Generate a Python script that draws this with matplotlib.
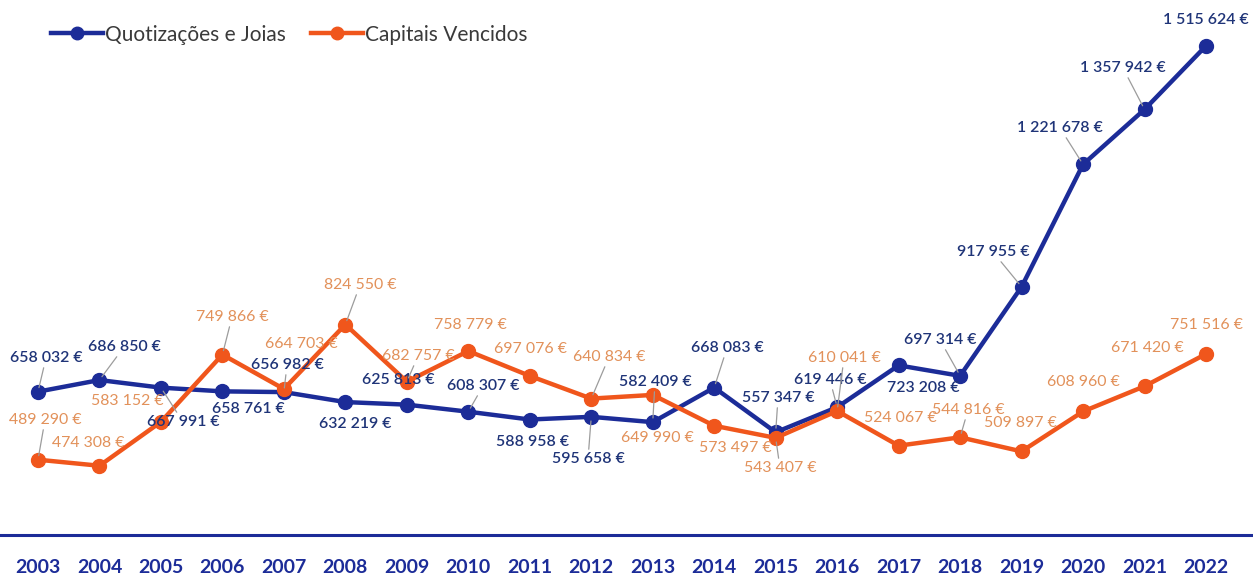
import matplotlib
matplotlib.use("Agg")
import matplotlib.pyplot as plt
from matplotlib.lines import Line2D

# ---------------- data ----------------
years = list(range(2003, 2023))
quotizacoes = [658032, 686850, 667991, 658761, 656982, 632219, 625813, 608307,
               588958, 595658, 582409, 668083, 557347, 619446, 723208, 697314,
               917955, 1221678, 1357942, 1515624]
capitais = [489290, 474308, 583152, 749866, 664703, 824550, 682757, 758779,
            697076, 640834, 649990, 573497, 543407, 610041, 524067, 544816,
            509897, 608960, 671420, 751516]
series_names = ["Quotizações e Joias", "Capitais Vencidos"]

# ---------------- layout (label positions in px, top-left origin) ----------------
q_label_pos = [(46, 358), (124, 347), (183, 422), (248, 409), (287, 365), (355, 424),
               (398, 380), (483, 386), (533, 442), (588, 459), (655, 382), (727, 348),
               (778, 398), (830, 380), (923, 388), (940, 340), (993, 252), (1060, 128),
               (1123, 68), (1206, 20)]
q_leader = [1, 1, 1, 0, 1, 0, 0, 1, 0, 1, 1, 1, 1, 1, 0, 1, 1, 1, 1, 0]
c_label_pos = [(45, 420), (88, 443), (127, 401), (232, 317), (301, 344), (360, 285),
               (418, 356), (470, 325), (530, 349), (609, 357), (657, 438), (735, 448),
               (780, 468), (844, 358), (900, 418), (968, 410), (1020, 423), (1083, 382),
               (1147, 348), (1207, 325)]
c_leader = [1, 0, 0, 1, 0, 1, 1, 0, 0, 1, 0, 0, 1, 1, 0, 1, 0, 0, 0, 0]

W, H = 1253, 576
BLUE = "#1c2c98"
ORANGE = "#f0561c"
BLUE_TXT = "#1f3478"
ORANGE_TXT = "#e2915a"
LEADER = "#9c9c9c"

plt.rcParams['font.family'] = ['Lato', 'DejaVu Sans']

fig = plt.figure(figsize=(W / 100, H / 100), dpi=100)
axis_px = 535
ax = fig.add_axes([0, (H - axis_px) / H, 1, axis_px / H])

# x scale: 2003 at 38 px, 2022 at 1206 px
k = (1206 - 38) / 19
xmin = 2003 - 38 / k
xmax = xmin + W / k
ax.set_xlim(xmin, xmax)
# y scale: value v at pixel 657 - v/2480
sc = 2480
ax.set_ylim((657 - axis_px) * sc, 657 * sc)

ax.plot(years, quotizacoes, color=BLUE, lw=3.2, marker='o', ms=10, zorder=3,
        solid_joinstyle='round')
ax.plot(years, capitais, color=ORANGE, lw=3.2, marker='o', ms=10, zorder=4,
        solid_joinstyle='round')


def fmt(v):
    return f"{v:,}".replace(",", " ") + " €"


def px_to_fig(p):
    return (p[0] / W, 1 - p[1] / H)


for yr, v, pos, ld in zip(years, quotizacoes, q_label_pos, q_leader):
    ap = dict(arrowstyle='-', color=LEADER, lw=0.9, shrinkA=0, shrinkB=3) if ld else None
    ax.annotate(fmt(v), xy=(yr, v), xytext=px_to_fig(pos), textcoords='figure fraction',
                ha='center', va='center', fontsize=11.4, color=BLUE_TXT,
                fontweight='semibold', arrowprops=ap, zorder=6)

for yr, v, pos, ld in zip(years, capitais, c_label_pos, c_leader):
    ap = dict(arrowstyle='-', color=LEADER, lw=0.9, shrinkA=0, shrinkB=3) if ld else None
    ax.annotate(fmt(v), xy=(yr, v), xytext=px_to_fig(pos), textcoords='figure fraction',
                ha='center', va='center', fontsize=11.4, color=ORANGE_TXT,
                arrowprops=ap, zorder=6)

# axes styling
for s in ['top', 'left', 'right']:
    ax.spines[s].set_visible(False)
ax.spines['bottom'].set_color(BLUE)
ax.spines['bottom'].set_linewidth(2.2)
ax.set_yticks([])
ax.set_xticks(years)
ax.set_xticklabels([str(y) for y in years], fontsize=14, fontweight='bold', color=BLUE)
ax.tick_params(axis='x', length=0, pad=17)
ax.set_facecolor('white')

# legend
handles = [Line2D([0], [0], color=BLUE, lw=3.2, marker='o', ms=9),
           Line2D([0], [0], color=ORANGE, lw=3.2, marker='o', ms=9)]
leg = fig.legend(handles, series_names, loc='upper left', bbox_to_anchor=(32 / W, 1 - 6 / H),
                 ncol=2, frameon=False, prop={'size': 15, 'weight': 'normal'},
                 handlelength=2.5, handletextpad=0.1,
                 columnspacing=1.2, labelcolor='#3a3a3a')

fig.savefig("out.png", dpi=100, facecolor='white')
